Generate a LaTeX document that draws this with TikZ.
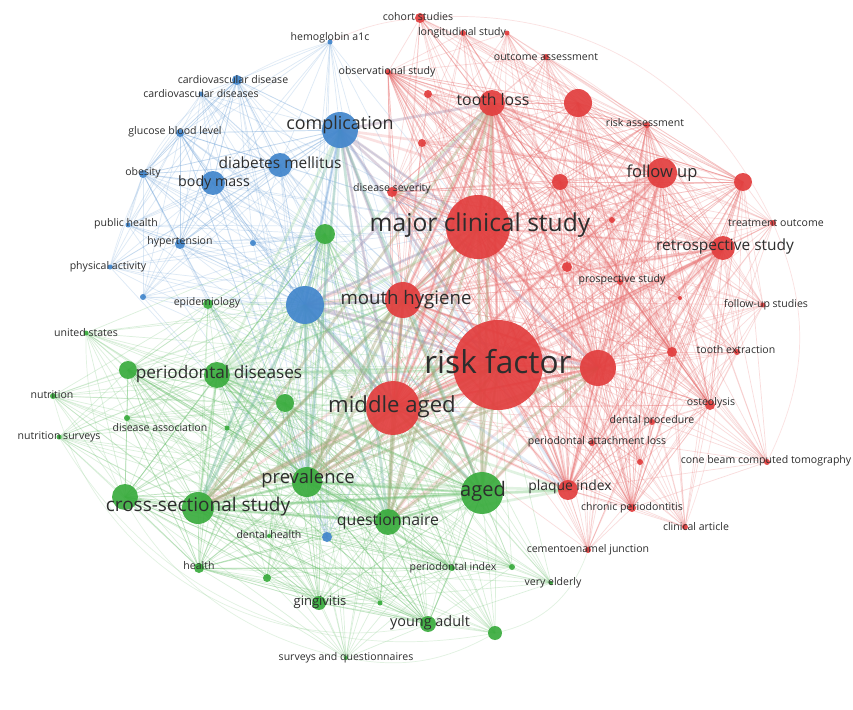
\documentclass[tikz,border=0pt]{standalone}
\usepackage{fontspec}
\setmainfont{Open Sans}
\definecolor{vosred}{RGB}{226,62,62}
\definecolor{vosgreen}{RGB}{58,172,62}
\definecolor{vosblue}{RGB}{66,134,204}
\definecolor{voslbl}{RGB}{45,45,45}

% keyword positions (pixels), name/x/y/radius
\def\rednodes{rf/498/365/45, mcs/478/227/32, mh/403/300/18, ma/393/408/27,
  tl/492/103/13, r1/578/103/14, fu/662/173/15, r2/743/182/9, rs/723/248/12,
  r3/598/368/18, pi/568/490/10, cp/632/508/4, ca/685/527/3, cej/588/550/3,
  cbct/767/462/3, dp/652/422/3, ost/710/405/5, pal/592/443/3, te/737/352/3,
  r4/672/352/5, fus/763/305/2.5, to/773/223/3, ps/620/282/3, r5/567/267/5,
  ra/647/125/3, oa/546/57/3, ls/463/33/3, r6/507/33/2.5, cs/420/18/5,
  os/388/72/3, ds/392/192/5, r7/422/143/4, r8/560/182/8, r9/612/220/3,
  r10/428/94/4, r11/640/462/3, r12/680/298/2}
\def\bluenodes{comp/340/130/18, dm/280/165/12, bm/213/183/12, gbl/180/133/4,
  ob/143/174/4, cvd/237/80/5, cvds/201/94/2.5, hb/330/42/2.5, ph/128/225/2.5,
  ht/180/244/5, pa/110/267/2.5, b1/305/305/19, b2/253/243/3, b3/143/297/3,
  b4/327/537/5}
\def\greennodes{ag/482/493/21, pv/307/482/15, css/198/508/16, g1/125/497/13,
  qn/388/522/13, pd/217/375/13, g2/128/370/9, g3/285/403/9, g4/325/234/10,
  ep/208/304/5, us/86/333/2.5, nu/53/396/3, ns/59/437/2.5, da/127/418/3,
  g9/227/428/2.5, he/199/568/5, g5/267/578/4, gi/319/603/7, g6/380/603/2.5,
  ya/428/624/8, g7/495/633/7, pdi/452/568/3, g8/512/567/3, ve/551/583/2,
  sq/346/658/2, dh/269/536/2}

\begin{document}
\begin{tikzpicture}[%
  x=0.02cm, y=-0.02cm,
  kw/.style={circle, inner sep=0pt, draw=none, fill opacity=0.92},
  redlink/.style={vosred!75, opacity=0.24, line width=0.4pt},
  bluelink/.style={vosblue!75, opacity=0.24, line width=0.4pt},
  greenlink/.style={vosgreen!75, opacity=0.24, line width=0.4pt},
  hublink/.style={#1!70, opacity=0.22, line width=1.5pt},
  rimlink/.style={#1!60, opacity=0.25, line width=0.4pt},
  lbl/.style={text=voslbl, inner sep=0pt},
  fsz/.style={font=\fontsize{#1}{#1}\selectfont},
]

  \useasboundingbox[fill=white] (0,0) rectangle (853,710);

  \foreach \n/\x/\y/\r in \rednodes {\coordinate (\n) at (\x,\y);}
  \foreach \n/\x/\y/\r in \bluenodes {\coordinate (\n) at (\x,\y);}
  \foreach \n/\x/\y/\r in \greennodes {\coordinate (\n) at (\x,\y);}

  % links
  \foreach \n/\x/\y/\r in \rednodes {
    \foreach \h in {rf,mcs,mh,ma,tl,r1,fu,rs,r3,pi,r2,r8,ps,ds,ra,os,cp,ost,r4}
      \draw[redlink] (\n) -- (\h);
  }
  \foreach \n/\x/\y/\r in \bluenodes {
    \foreach \h in {comp,dm,bm,b1,mcs,rf,ma,gbl,ht,cvd,ob,g4,pv,mh}
      \draw[bluelink] (\n) -- (\h);
  }
  \foreach \n/\x/\y/\r in \greennodes {
    \foreach \h in {ag,pv,css,qn,pd,g1,ma,rf,g2,g3,he,gi,ya,pdi,b1,g4,mh}
      \draw[greenlink] (\n) -- (\h);
  }
  \foreach \a/\c in {rf/vosred,mcs/vosred,mh/vosred,ma/vosred,tl/vosred,
                     fu/vosred,r3/vosred,rs/vosred,comp/vosblue,b1/vosblue,
                     ag/vosgreen,pv/vosgreen,css/vosgreen,qn/vosgreen,pd/vosgreen} {
    \foreach \b in {rf,mcs,mh,ma,ag,pv,css,qn,comp,b1,r3,tl,pi}
      \draw[hublink=\c] (\a) -- (\b);
  }

  % faint outer arcs
  \draw[rimlink=vosred] (cs) to[bend left=35] (to);
  \draw[rimlink=vosred] (to) to[bend left=25] (cbct);
  \draw[rimlink=vosred] (hb) to[bend left=10] (cs);
  \draw[rimlink=vosred] (r1) to[bend left=30] (fus);
  \draw[rimlink=vosred] (fu) to[bend left=25] (ca);
  \draw[rimlink=vosred] (oa) to[bend left=30] (te);
  \draw[rimlink=vosgreen] (us) to[bend right=40] (sq);
  \draw[rimlink=vosgreen] (nu) to[bend right=45] (ya);
  \draw[rimlink=vosgreen] (sq) to[bend right=20] (g7);
  \draw[rimlink=vosgreen] (g7) to[bend right=30] (cej);
  \draw[rimlink=vosgreen] (ns) to[bend right=35] (g7);
  \draw[rimlink=vosblue] (pa) to[bend left=30] (hb);
  \draw[rimlink=vosblue] (ph) to[bend left=25] (cvd);

  % keyword circles
  \foreach \n/\x/\y/\r [evaluate=\r as \d using \r*0.04] in \rednodes
    \node[kw, fill=vosred, minimum size=\d cm] (\n-d) at (\n) {};
  \foreach \n/\x/\y/\r [evaluate=\r as \d using \r*0.04] in \bluenodes
    \node[kw, fill=vosblue, minimum size=\d cm] (\n-d) at (\n) {};
  \foreach \n/\x/\y/\r [evaluate=\r as \d using \r*0.04] in \greennodes
    \node[kw, fill=vosgreen, minimum size=\d cm] (\n-d) at (\n) {};

  % labels
  \foreach \n/\x/\y/\s/\t in {
    rf/498/362/18/risk factor, mcs/480/225/14/major clinical study,
    mh/406/300/10.6/mouth hygiene, ma/392/407/12.6/middle aged,
    tl/493/100/9/tooth loss, fu/662/173/9.4/follow up,
    rs/725/246/8.8/retrospective study, pi/570/487/7.9/plaque index,
    ag/483/491/11.4/aged, pv/308/479/10.5/prevalence,
    css/198/507/10.8/cross-sectional study, qn/388/522/9/questionnaire,
    pd/219/374/9.8/periodontal diseases, comp/340/125/10.2/complication,
    dm/280/163/8.8/diabetes mellitus, bm/214/183/8.1/body mass,
    ya/430/623/8.2/young adult, gi/320/602/7.4/gingivitis}
    \node[lbl, fsz=\s] (\n-l) at (\x,\y) {\t};

  \foreach \n/\x/\y/\t in {
    cp/632/508/chronic periodontitis, ca/696/527/clinical article,
    cej/588/550/cementoenamel junction, cbct/766/461/cone beam computed tomography,
    dp/652/421/dental procedure, ost/711/403/osteolysis,
    pal/597/442/periodontal attachment loss, te/736/350/tooth extraction,
    fus/766/305/follow-up studies, to/776/223/treatment outcome,
    ps/622/280/prospective study, ra/645/123/risk assessment,
    oa/546/57/outcome assessment, ls/462/33/longitudinal study,
    cs/418/17/cohort studies, os/387/72/observational study,
    ds/392/189/disease severity, gbl/175/132/glucose blood level,
    ob/143/173/obesity, cvd/233/80/cardiovascular disease,
    cvds/201/94/cardiovascular diseases, hb/330/38/hemoglobin a1c,
    ph/126/224/public health, ht/180/242/hypertension,
    pa/108/267/physical activity, ep/207/303/epidemiology,
    us/86/333/united states, nu/52/395/nutrition,
    ns/59/437/nutrition surveys, da/160/428/disease association,
    he/199/566/health, dh/269/535/dental health,
    pdi/453/568/periodontal index, ve/553/583/very elderly,
    sq/346/658/surveys and questionnaires}
    \node[lbl, fsz=6] (\n-l) at (\x,\y) {\t};

\end{tikzpicture}
\end{document}
